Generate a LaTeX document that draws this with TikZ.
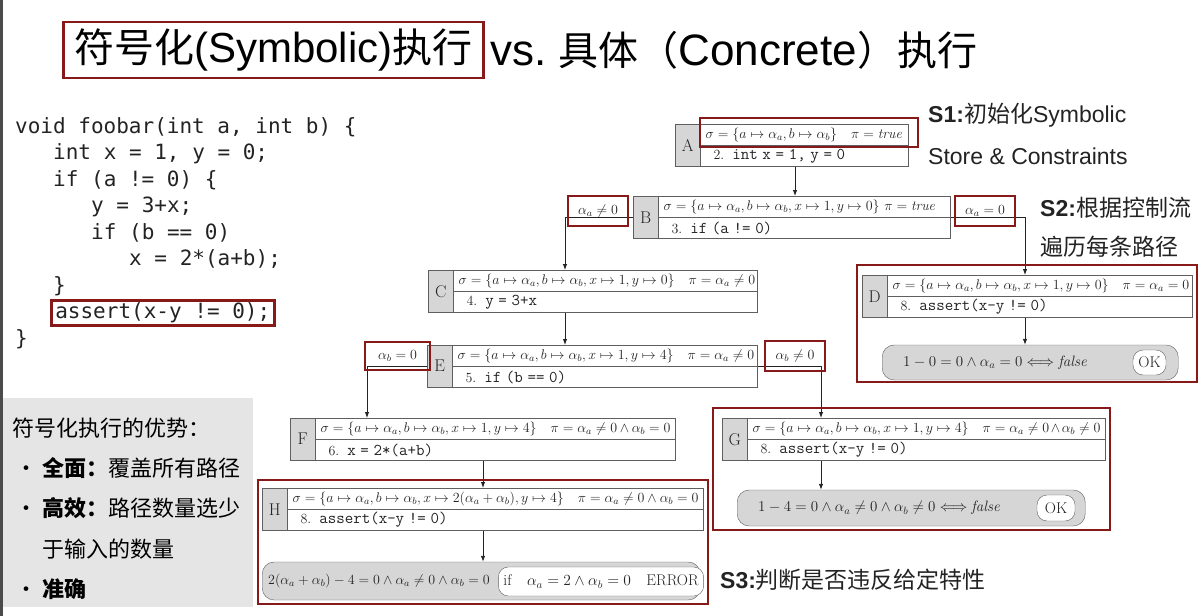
\RequirePackage{fix-cm}
\documentclass[tikz,border=0pt]{standalone}
\usepackage{amsmath}
\usepackage{fontspec}
\setsansfont{Liberation Sans}
\newfontfamily\cjk{Noto Sans CJK SC}
\newfontfamily\codefont{DejaVu Sans Mono}
\usetikzlibrary{arrows.meta,positioning}
\definecolor{ppRed}  {RGB}{135, 25, 25}
\definecolor{ppLine} {RGB}{ 95, 95, 95}
\definecolor{ppCell} {RGB}{214,214,214}
\definecolor{ppPanel}{RGB}{229,229,229}
\definecolor{ppInk}  {RGB}{ 35, 35, 35}
\definecolor{ppStrip}{RGB}{ 75, 75, 75}
\newcommand{\pxsize}[1]{\fontsize{#1}{#1}\selectfont}
\newcommand{\rowfont}{\pxsize{14}\relpenalty=10000 \binoppenalty=10000 }
\newcommand{\stmt}[2]{\hspace{8pt}#1.\hspace{8pt}{\pxsize{16.5}\ttfamily #2}}

\begin{document}
\begin{tikzpicture}[x=1pt,y=-1pt,
  >={Latex[length=6pt,width=4.5pt]},
  every node/.style={text=ppInk},
  redbox/.style={draw=ppRed,line width=2.6pt},
  codeline/.style={anchor=west,inner sep=0pt,font=\codefont\pxsize{21}},
  cell/.style={draw=ppLine,fill=ppCell,anchor=north west,inner sep=0pt,
               minimum width=25,minimum height=42,font=\pxsize{17}},
  row/.style={draw=ppLine,fill=white,anchor=north west,inner xsep=5,
              inner ysep=0pt,text width=#1,minimum height=21,align=left,
              font=\rowfont},
  cond/.style={redbox,inner sep=0pt,minimum width=60,minimum height=30,
               font=\rowfont},
  result/.style={draw=ppLine,fill=ppCell,rounded corners=12,anchor=west,
                 inner ysep=0pt,align=left,font=\rowfont\pxsize{15}},
  verdict/.style={draw=ppLine,fill=white,rounded corners=10,inner xsep=5,
                  inner ysep=0pt,font=\rowfont\pxsize{15.5}},
  slabel/.style={anchor=west,inner sep=0pt,font=\sffamily\pxsize{23}},
  adv/.style={anchor=west,inner sep=0pt,text=black,font=\cjk\pxsize{22}},
  link/.style={->,draw=ppInk,line width=0.9pt}
]
\useasboundingbox (0,0) rectangle (1200,616);
\fill[ppStrip] (0,0) rectangle (3,616);

% title
\node[redbox,anchor=west,minimum height=56,inner xsep=11,inner ysep=0pt,
      text=black,font=\sffamily\pxsize{42}] (title) at (62,50)
      {{\cjk\pxsize{40}符号化}(Symbolic){\cjk\pxsize{40}执行}};
\node[right=5pt of title,inner sep=0pt,text=black,font=\sffamily\pxsize{44}]
      (titlerest) {vs.\ {\cjk\pxsize{40}具体（}Concrete{\cjk\pxsize{40}）执行}};

% source code
\node[codeline] (c1) at (15,127)  {void foobar(int a, int b) \{};
\node[codeline] (c2) at (53,154)  {int x = 1, y = 0;};
\node[codeline] (c3) at (53,180)  {if (a != 0) \{};
\node[codeline] (c4) at (91,207)  {y = 3+x;};
\node[codeline] (c5) at (91,233)  {if (b == 0)};
\node[codeline] (c6) at (129,259) {x = 2*(a+b);};
\node[codeline] (c7) at (53,286)  {\}};
\node[codeline,redbox,inner xsep=4,minimum height=25] (c8) at (50,313)
      {assert(x-y != 0);};
\node[codeline] (c9) at (15,339)  {\}};

% advantages
\node[fill=ppPanel,anchor=north west,minimum width=250,minimum height=209,
      inner sep=0pt] (panel) at (3,398) {};
\node[adv] (adv1) at (12,428) {符号化执行的优势：};
\node[adv] (adv2) at (15,468) {\makebox[27pt][l]{•}{\bfseries 全面：}覆盖所有路径};
\node[adv] (adv3) at (15,508) {\makebox[27pt][l]{•}{\bfseries 高效：}路径数量选少};
\node[adv] (adv4) at (42,549) {于输入的数量};
\node[adv] (adv5) at (15,589) {\makebox[27pt][l]{•}{\bfseries 准确}};

% symbolic states
\node[cell] (A) at (675,124) {A};
\node[row=198] (Asig)  at (A.north east)
  {$\sigma=\{a\mapsto\alpha_a,b\mapsto\alpha_b\}\quad\pi=\mathit{true}$};
\node[row=198] (Acode) at (Asig.south west) {\stmt{2}{int x = 1, y = 0}};

\node[cell] (B) at (633,196) {B};
\node[row=282] (Bsig)  at (B.north east)
  {$\sigma=\{a\mapsto\alpha_a,b\mapsto\alpha_b,x\mapsto1,y\mapsto0\}\ \pi=\mathit{true}$};
\node[row=282] (Bcode) at (Bsig.south west) {\stmt{3}{if (a != 0)}};

\node[cell] (C) at (428,270) {C};
\node[row=294] (Csig)  at (C.north east)
  {$\sigma=\{a\mapsto\alpha_a,b\mapsto\alpha_b,x\mapsto1,y\mapsto0\}\quad\pi=\alpha_a\neq0$};
\node[row=294] (Ccode) at (Csig.south west) {\stmt{4}{y = 3+x}};

\node[cell] (D) at (862,275) {D};
\node[row=295] (Dsig)  at (D.north east)
  {$\sigma=\{a\mapsto\alpha_a,b\mapsto\alpha_b,x\mapsto1,y\mapsto0\}\quad\pi=\alpha_a=0$};
\node[row=295] (Dcode) at (Dsig.south west) {\stmt{8}{assert(x-y != 0)}};

\node[cell] (E) at (427,345) {E};
\node[row=295] (Esig)  at (E.north east)
  {$\sigma=\{a\mapsto\alpha_a,b\mapsto\alpha_b,x\mapsto1,y\mapsto4\}\quad\pi=\alpha_a\neq0$};
\node[row=295] (Ecode) at (Esig.south west) {\stmt{5}{if (b == 0)}};

\node[cell] (F) at (290,418) {F};
\node[row=350] (Fsig)  at (F.north east)
  {$\sigma=\{a\mapsto\alpha_a,b\mapsto\alpha_b,x\mapsto1,y\mapsto4\}\quad\pi=\alpha_a\neq0\wedge\alpha_b=0$};
\node[row=350] (Fcode) at (Fsig.south west) {\stmt{6}{x = 2*(a+b)}};

\node[cell] (G) at (722,418) {G};
\node[row=348] (Gsig)  at (G.north east)
  {$\sigma=\{a\mapsto\alpha_a,b\mapsto\alpha_b,x\mapsto1,y\mapsto4\}\quad\pi=\alpha_a\neq0\wedge\alpha_b\neq0$};
\node[row=348] (Gcode) at (Gsig.south west) {\stmt{8}{assert(x-y != 0)}};

\node[cell] (H) at (262,488) {H};
\node[row=406] (Hsig)  at (H.north east)
  {$\sigma=\{a\mapsto\alpha_a,b\mapsto\alpha_b,x\mapsto2(\alpha_a+\alpha_b),y\mapsto4\}\quad\pi=\alpha_a\neq0\wedge\alpha_b=0$};
\node[row=406] (Hcode) at (Hsig.south west) {\stmt{8}{assert(x-y != 0)}};

% path conditions
\node[result,inner xsep=21,text width=254,minimum height=35] (Dres) at (882,362.5)
  {$1-0=0\wedge\alpha_a=0\Longleftrightarrow\mathit{false}$};
\node[verdict,minimum width=33,minimum height=25] (Dok) at (1149.5,362.5) {OK};
\node[result,inner xsep=21,text width=306,minimum height=36] (Gres) at (737,508)
  {$1-4=0\wedge\alpha_a\neq0\wedge\alpha_b\neq0\Longleftrightarrow\mathit{false}$};
\node[verdict,minimum width=38,minimum height=26] (Gok) at (1056,508) {OK};
\node[result,inner xsep=6,text width=426,minimum height=38,font=\rowfont]
  (Hres) at (262,581)
  {$2(\alpha_a+\alpha_b)-4=0\wedge\alpha_a\neq0\wedge\alpha_b=0$};
\node[verdict,minimum width=192,minimum height=29] (Herr) at (601,581.5)
  {if\quad$\alpha_a=2\wedge\alpha_b=0$\quad ERROR};

% branch columns
\coordinate (colA) at (795,0);
\coordinate (colC) at (565,0);
\coordinate (colD) at (1025,0);
\coordinate (colF) at (367,0);
\coordinate (colG) at (821,0);
\coordinate (colH) at (483,0);

\draw[link] (colA |- Acode.south) -- (colA |- Bsig.north);
\draw[link] (B.west) -| (colC |- Csig.north);
\draw[link] (Bsig.south east) -| (colD |- Dsig.north);
\draw[link] (colC |- Ccode.south) -- (colC |- Esig.north);
\draw[link] (E.west) -| (colF |- Fsig.north);
\draw[link] (Esig.south east) -| (colG |- Gsig.north);
\draw[link] (colH |- Fcode.south) -- (colH |- Hsig.north);
\draw[link] (colD |- Dcode.south) -- (colD |- Dres.north);
\draw[link] (colG |- Gcode.south) -- (colG |- Gres.north);
\draw[link] (colH |- Hcode.south) -- (colH |- Hres.north);

\node[cond] (aNeq) at (598,211)   {$\alpha_a\neq0$};
\node[cond] (aEq)  at (985,211)   {$\alpha_a=0$};
\node[cond,minimum width=65,minimum height=28] (bEq)  at (397.5,356) {$\alpha_b=0$};
\node[cond] (bNeq) at (795,356)   {$\alpha_b\neq0$};

% steps
\node[slabel] (s1a) at (928,115)  {{\bfseries S1:}{\cjk 初始化}Symbolic};
\node[slabel] (s1b) at (928,156)  {Store \& Constraints};
\node[slabel] (s2a) at (1040,208) {{\bfseries S2:}{\cjk 根据控制流}};
\node[slabel] (s2b) at (1040,247) {{\cjk 遍历每条路径}};
\node[slabel] (s3)  at (720,580)  {{\bfseries S3:}{\cjk 判断是否违反给定特性}};

% highlights
\draw[redbox] (700,118) rectangle (918,147);
\draw[redbox] (857,265) rectangle (1197,382);
\draw[redbox] (713,408) rectangle (1110,530);
\draw[redbox] (258,480) rectangle (708,604);
\end{tikzpicture}
\end{document}
